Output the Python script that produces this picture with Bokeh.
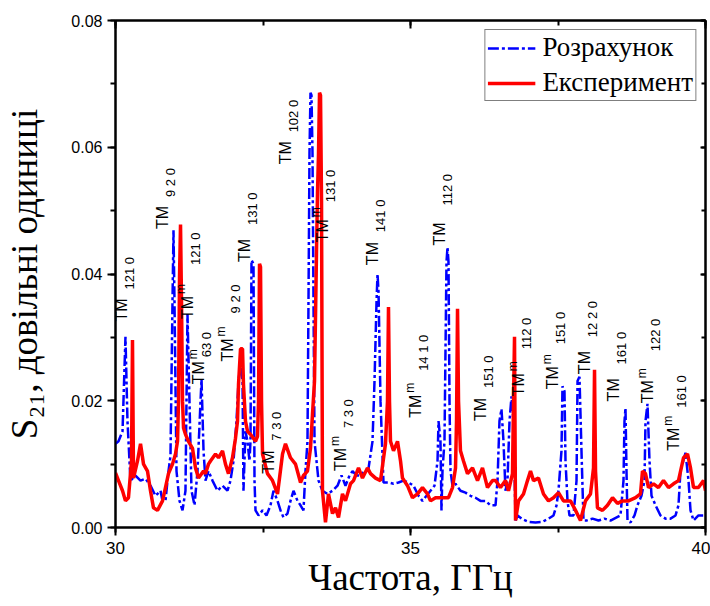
import math
from bokeh.plotting import figure
from bokeh.models import (Range1d, LinearAxis, SingleIntervalTicker, Label,
                          CustomJSTickFormatter, PrintfTickFormatter)
from bokeh.embed import file_html
from bokeh.resources import INLINE

# ---------------- data ----------------
calc_freq = [30.000, 30.051, 30.119, 30.169, 30.203, 30.254, 30.339, 30.424, 30.508, 30.593,
             30.678, 30.763, 30.797, 30.847, 30.898, 30.932, 30.966, 30.983, 31.000, 31.034,
             31.085, 31.136, 31.186, 31.220, 31.254, 31.288, 31.339, 31.390, 31.441, 31.458,
             31.492, 31.525, 31.576, 31.644, 31.729, 31.814, 31.898, 31.949, 32.000, 32.051,
             32.085, 32.119, 32.153, 32.169, 32.203, 32.237, 32.271, 32.288, 32.305, 32.339,
             32.356, 32.373, 32.424, 32.492, 32.559, 32.627, 32.678, 32.746, 32.797, 32.847,
             32.915, 32.966, 33.017, 33.085, 33.136, 33.186, 33.220, 33.254, 33.271, 33.288,
             33.305, 33.322, 33.339, 33.356, 33.373, 33.441, 33.508, 33.593, 33.678, 33.763,
             33.831, 33.898, 33.966, 34.017, 34.085, 34.153, 34.220, 34.288, 34.356, 34.390,
             34.424, 34.441, 34.458, 34.492, 34.542, 34.627, 34.712, 34.797, 34.881, 34.966,
             35.051, 35.136, 35.203, 35.271, 35.339, 35.407, 35.458, 35.475, 35.508, 35.525,
             35.542, 35.576, 35.593, 35.610, 35.627, 35.644, 35.661, 35.678, 35.712, 35.763,
             35.847, 35.932, 36.017, 36.102, 36.186, 36.271, 36.356, 36.441, 36.475, 36.508,
             36.542, 36.576, 36.610, 36.644, 36.678, 36.712, 36.746, 36.780, 36.814, 36.898,
             37.000, 37.119, 37.237, 37.339, 37.424, 37.475, 37.508, 37.559, 37.576, 37.610,
             37.627, 37.661, 37.695, 37.763, 37.814, 37.831, 37.864, 37.898, 37.932, 37.983,
             38.085, 38.186, 38.288, 38.390, 38.559, 38.610, 38.627, 38.644, 38.661, 38.678,
             38.729, 38.797, 38.847, 38.915, 38.966, 38.983, 39.017, 39.051, 39.085, 39.153,
             39.237, 39.322, 39.407, 39.492, 39.542, 39.576, 39.661, 39.712, 39.746, 39.797,
             39.881, 40.000]
calc_s = [0.0132, 0.0136, 0.0152, 0.0301, 0.0168, 0.0074, 0.0082, 0.0074, 0.0077, 0.0066,
          0.0050, 0.0058, 0.0042, 0.0042, 0.0089, 0.0113, 0.0356, 0.0469, 0.0356, 0.0089,
          0.0042, 0.0027, 0.0058, 0.0337, 0.0199, 0.0058, 0.0035, 0.0089, 0.0199, 0.0234,
          0.0121, 0.0074, 0.0089, 0.0074, 0.0058, 0.0066, 0.0058, 0.0074, 0.0105, 0.0168,
          0.0231, 0.0259, 0.0231, 0.0058, 0.0152, 0.0136, 0.0105, 0.0136, 0.0422, 0.0416,
          0.0074, 0.0027, 0.0019, 0.0027, 0.0019, 0.0035, 0.0058, 0.0042, 0.0027, 0.0016,
          0.0022, 0.0042, 0.0058, 0.0042, 0.0035, 0.0027, 0.0089, 0.0136, 0.0356, 0.0591,
          0.0686, 0.0682, 0.0591, 0.0356, 0.0136, 0.0074, 0.0058, 0.0053, 0.0058, 0.0066,
          0.0082, 0.0066, 0.0082, 0.0089, 0.0082, 0.0082, 0.0089, 0.0093, 0.0136, 0.0231,
          0.0356, 0.0400, 0.0372, 0.0199, 0.0071, 0.0071, 0.0069, 0.0071, 0.0074, 0.0071,
          0.0066, 0.0050, 0.0042, 0.0050, 0.0058, 0.0066, 0.0105, 0.0168, 0.0136, 0.0027,
          0.0089, 0.0136, 0.0278, 0.0419, 0.0442, 0.0419, 0.0199, 0.0089, 0.0066, 0.0069,
          0.0058, 0.0055, 0.0050, 0.0047, 0.0042, 0.0042, 0.0035, 0.0035, 0.0074, 0.0168,
          0.0187, 0.0136, 0.0058, 0.0074, 0.0168, 0.0207, 0.0168, 0.0011, 0.0019, 0.0013,
          0.0009, 0.0008, 0.0009, 0.0014, 0.0019, 0.0035, 0.0058, 0.0121, 0.0223, 0.0215,
          0.0105, 0.0042, 0.0019, 0.0019, 0.0074, 0.0231, 0.0238, 0.0121, 0.0011, 0.0011,
          0.0014, 0.0011, 0.0014, 0.0011, 0.0019, 0.0074, 0.0168, 0.0188, 0.0089, 0.0011,
          0.0008, 0.0019, 0.0035, 0.0050, 0.0074, 0.0168, 0.0195, 0.0105, 0.0050, 0.0035,
          0.0019, 0.0014, 0.0014, 0.0019, 0.0035, 0.0089, 0.0118, 0.0074, 0.0027, 0.0011,
          0.0019, 0.0019]

exp_freq = [30.000, 30.051, 30.119, 30.169, 30.220, 30.254, 30.271, 30.288, 30.305, 30.373,
            30.424, 30.475, 30.542, 30.593, 30.644, 30.712, 30.797, 30.847, 30.898, 30.966,
            31.017, 31.051, 31.068, 31.085, 31.102, 31.119, 31.136, 31.153, 31.186, 31.237,
            31.305, 31.356, 31.407, 31.492, 31.525, 31.576, 31.610, 31.695, 31.746, 31.814,
            31.864, 31.915, 31.983, 32.034, 32.068, 32.085, 32.119, 32.153, 32.169, 32.203,
            32.237, 32.288, 32.373, 32.407, 32.424, 32.441, 32.458, 32.475, 32.492, 32.576,
            32.661, 32.746, 32.831, 32.881, 32.966, 33.051, 33.136, 33.186, 33.254, 33.305,
            33.339, 33.373, 33.407, 33.424, 33.441, 33.458, 33.475, 33.492, 33.508, 33.559,
            33.610, 33.678, 33.729, 33.780, 33.847, 33.898, 33.983, 34.034, 34.119, 34.186,
            34.271, 34.322, 34.407, 34.492, 34.576, 34.610, 34.627, 34.644, 34.661, 34.712,
            34.780, 34.831, 34.864, 34.949, 35.034, 35.119, 35.203, 35.288, 35.339, 35.424,
            35.542, 35.644, 35.712, 35.763, 35.780, 35.797, 35.814, 35.847, 35.898, 35.966,
            36.051, 36.136, 36.220, 36.305, 36.390, 36.441, 36.525, 36.610, 36.661, 36.729,
            36.746, 36.763, 36.780, 36.831, 36.915, 36.983, 37.034, 37.085, 37.169, 37.254,
            37.339, 37.424, 37.508, 37.593, 37.712, 37.797, 37.881, 37.966, 38.051, 38.102,
            38.119, 38.136, 38.169, 38.254, 38.339, 38.424, 38.508, 38.593, 38.695, 38.814,
            38.898, 38.932, 38.983, 39.034, 39.119, 39.203, 39.288, 39.373, 39.458, 39.542,
            39.627, 39.695, 39.746, 39.797, 39.881, 39.966, 40.000]
exp_s = [0.0086, 0.0074, 0.0058, 0.0042, 0.0047, 0.0085, 0.0105, 0.0296, 0.0078, 0.0105,
         0.0132, 0.0100, 0.0089, 0.0058, 0.0031, 0.0027, 0.0042, 0.0063, 0.0085, 0.0100,
         0.0116, 0.0136, 0.0199, 0.0395, 0.0478, 0.0356, 0.0199, 0.0157, 0.0147, 0.0136,
         0.0125, 0.0094, 0.0078, 0.0089, 0.0085, 0.0100, 0.0105, 0.0116, 0.0110, 0.0121,
         0.0100, 0.0085, 0.0110, 0.0141, 0.0168, 0.0226, 0.0282, 0.0282, 0.0226, 0.0168,
         0.0152, 0.0147, 0.0136, 0.0144, 0.0199, 0.0416, 0.0411, 0.0199, 0.0116, 0.0085,
         0.0074, 0.0053, 0.0116, 0.0132, 0.0110, 0.0100, 0.0071, 0.0082, 0.0089, 0.0125,
         0.0179, 0.0231, 0.0435, 0.0529, 0.0591, 0.0686, 0.0682, 0.0513, 0.0058, 0.0008,
         0.0053, 0.0022, 0.0031, 0.0016, 0.0053, 0.0042, 0.0069, 0.0074, 0.0094, 0.0078,
         0.0094, 0.0085, 0.0078, 0.0074, 0.0132, 0.0199, 0.0348, 0.0199, 0.0136, 0.0121,
         0.0136, 0.0105, 0.0078, 0.0066, 0.0047, 0.0053, 0.0063, 0.0053, 0.0042, 0.0047,
         0.0047, 0.0047, 0.0063, 0.0094, 0.0168, 0.0345, 0.0199, 0.0121, 0.0105, 0.0085,
         0.0094, 0.0074, 0.0094, 0.0063, 0.0074, 0.0074, 0.0063, 0.0074, 0.0058, 0.0085,
         0.0199, 0.0301, 0.0011, 0.0042, 0.0053, 0.0074, 0.0089, 0.0074, 0.0078, 0.0053,
         0.0042, 0.0047, 0.0055, 0.0042, 0.0042, 0.0027, 0.0011, 0.0042, 0.0053, 0.0094,
         0.0249, 0.0089, 0.0031, 0.0027, 0.0035, 0.0047, 0.0038, 0.0042, 0.0042, 0.0047,
         0.0053, 0.0089, 0.0085, 0.0063, 0.0069, 0.0063, 0.0074, 0.0063, 0.0069, 0.0074,
         0.0110, 0.0116, 0.0094, 0.0063, 0.0063, 0.0074, 0.0058]

series_names = ["Розрахунок", "Експеримент"]
x_title = "Частота, ГГц"
y_title = "S\u2082\u2081, довільні одиниці"

# mode annotations: position (data), subscript text, superscript "m" flag
mode_x = [30.102, 30.797, 31.220, 31.407, 31.898, 32.186, 32.593, 32.881, 33.508, 34.356,
          33.814, 35.085, 35.492, 36.186, 36.831, 37.407, 37.949, 38.441, 39.017, 39.458]
mode_y = [0.0325, 0.0471, 0.0329, 0.0226, 0.0262, 0.0419, 0.0085, 0.0573, 0.0450, 0.0414,
          0.0089, 0.0173, 0.0445, 0.0168, 0.0207, 0.0218, 0.0242, 0.0199, 0.0196, 0.0121]
mode_sub = ["121 0", "9 2 0", "121 0", "63 0", "9 2 0", "131 0", "7 3 0", "102 0", "131 0", "141 0",
            "7 3 0", "14 1 0", "112 0", "151 0", "112 0", "151 0", "12 2 0", "161 0", "122 0", "161 0"]
mode_sup = [False, False, True, True, True, False, False, False, True, False,
            True, True, False, False, True, True, False, False, True, True]
# layout offsets (screen px) of subscript relative to "TM"
sub_dy = [32, 32, 54, 27, 48, 37, 33, 32, 40, 33, 43, 47, 40, 33, 47, 45, 37, 37, 52, 43]

# ---------------- figure ----------------
p = figure(width=710, height=606, x_range=Range1d(30, 40), y_range=Range1d(0, 0.08),
           output_backend="svg", toolbar_location=None,
           min_border_left=115, min_border_right=5, min_border_top=20, min_border_bottom=79)
p.xgrid.visible = False
p.ygrid.visible = False
p.outline_line_color = "black"
p.outline_line_width = 2
p.background_fill_color = "white"

p.line(calc_freq, calc_s, line_color="#0000FF", line_width=2.5, line_dash="11 3 3 3",
       legend_label=series_names[0])
p.line(exp_freq, exp_s, line_color="#FF0000", line_width=3.5, legend_label=series_names[1])

tick_font = "Liberation Sans"
serif = "Liberation Serif"

xa = p.xaxis[0]
xa.ticker = SingleIntervalTicker(interval=5, num_minor_ticks=2)
xa.major_tick_out = 8
xa.major_tick_in = 0
xa.minor_tick_out = 5
xa.minor_tick_in = 0
xa.axis_line_width = 2
xa.major_tick_line_width = 2
xa.minor_tick_line_width = 2
xa.major_label_text_font = tick_font
xa.major_label_text_font_size = "17px"
xa.major_label_standoff = 6
xa.major_label_text_color = "black"
xa.axis_label = x_title
xa.axis_label_text_font = serif
xa.axis_label_text_font_size = "37px"
xa.axis_label_text_font_style = "normal"
xa.axis_label_text_color = "black"
xa.axis_label_standoff = 0

ya = p.yaxis[0]
ya.ticker = SingleIntervalTicker(interval=0.02, num_minor_ticks=2)
ya.formatter = PrintfTickFormatter(format="%.2f")
ya.major_tick_out = 8
ya.major_tick_in = 0
ya.minor_tick_out = 5
ya.minor_tick_in = 0
ya.axis_line_width = 2
ya.major_tick_line_width = 2
ya.minor_tick_line_width = 2
ya.major_label_text_font = tick_font
ya.major_label_text_font_size = "16px"
ya.major_label_standoff = 5
ya.major_label_text_color = "black"
ya.axis_label = y_title
ya.axis_label_text_font = serif
ya.axis_label_text_font_size = "37px"
ya.axis_label_text_font_style = "normal"
ya.axis_label_text_color = "black"
ya.axis_label_standoff = 23

blank = CustomJSTickFormatter(code="return ''")
top = LinearAxis(ticker=SingleIntervalTicker(interval=5, num_minor_ticks=2), formatter=blank,
                 major_tick_in=8, major_tick_out=0, minor_tick_in=5, minor_tick_out=0,
                 major_label_standoff=0, axis_line_width=2, major_tick_line_width=2,
                 minor_tick_line_width=2)
p.add_layout(top, "above")
right = LinearAxis(ticker=SingleIntervalTicker(interval=0.02, num_minor_ticks=2), formatter=blank,
                   major_tick_in=5, major_tick_out=0, minor_tick_in=4, minor_tick_out=0,
                   major_label_standoff=0, axis_line_width=2, major_tick_line_width=2,
                   minor_tick_line_width=2)
p.add_layout(right, "right")

# mode annotations
rot = math.pi / 2
for mx, my, sub, sup, dy in zip(mode_x, mode_y, mode_sub, mode_sup, sub_dy):
    p.add_layout(Label(x=mx, y=my, text="TM", angle=rot, text_align="left",
                       text_baseline="middle", text_font=tick_font, text_font_size="16px",
                       text_color="black"))
    p.add_layout(Label(x=mx, y=my, text=sub, angle=rot, text_align="left",
                       text_baseline="middle", text_font=tick_font, text_font_size="13px",
                       text_color="black", x_offset=8, y_offset=dy))
    if sup:
        p.add_layout(Label(x=mx, y=my, text="m", angle=rot, text_align="left",
                           text_baseline="middle", text_font=tick_font, text_font_size="12px",
                           text_color="black", x_offset=-6, y_offset=25))

lg = p.legend[0]
lg.location = "top_right"
lg.margin = 9
lg.padding = 2
lg.spacing = 4
lg.glyph_width = 48
lg.glyph_height = 30
lg.label_height = 30
lg.label_standoff = 7
lg.label_text_font = serif
lg.label_text_font_size = "27px"
lg.label_text_color = "black"
lg.border_line_color = "black"
lg.border_line_width = 1
lg.background_fill_alpha = 1.0

open("out.html", "w").write(file_html(p, INLINE))
